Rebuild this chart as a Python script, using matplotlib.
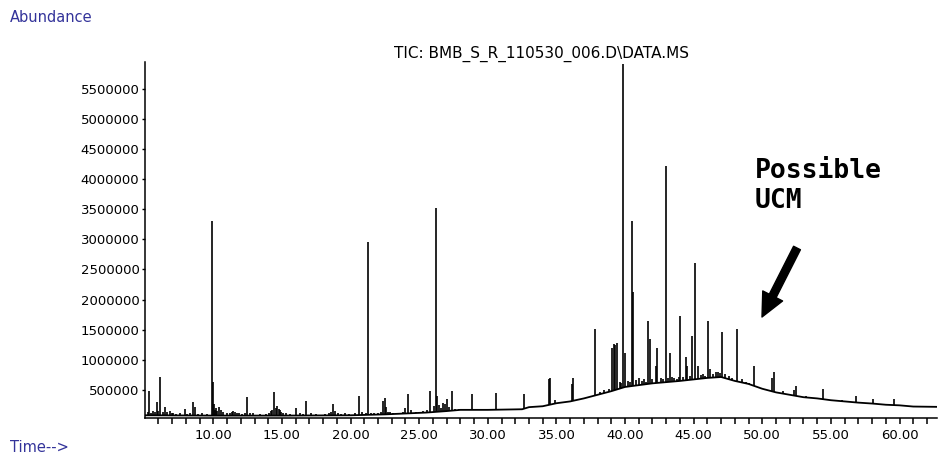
import numpy as np
import matplotlib
matplotlib.use("Agg")
import matplotlib.pyplot as plt
from matplotlib.ticker import MultipleLocator, FixedLocator

# Linea base (joroba UCM): tiempo (min) y abundancia
base_t = [5.0, 10.0, 15.0, 20.0, 22.5, 24.0, 25.5, 27.0, 28.0, 30.0, 32.5, 33.0,
          34.0, 35.0, 36.0, 37.0, 38.0, 39.0, 40.0, 41.0, 42.0, 43.0, 44.0, 45.0,
          46.0, 47.0, 48.0, 49.0, 50.0, 51.0, 52.0, 53.0, 54.0, 55.0, 56.0, 57.0,
          58.0, 59.0, 60.0, 61.0, 62.7]
base_y = [80000, 75000, 75000, 80000, 95000, 110000, 125000, 150000, 170000, 170000,
          180000, 215000, 230000, 280000, 310000, 360000, 420000, 480000, 550000,
          580000, 610000, 630000, 650000, 675000, 700000, 715000, 650000, 600000,
          520000, 460000, 420000, 380000, 360000, 330000, 310000, 290000, 275000,
          255000, 245000, 225000, 220000]

# Picos principales: tiempo de retencion y abundancia maxima
pico_t = [5.34, 5.6, 5.87, 6.14, 6.3, 6.49, 6.84, 7.08, 7.94, 8.54, 8.65, 9.93, 10.0,
          10.15, 10.3, 10.54, 11.2, 11.45, 11.7, 12.48, 12.7, 14.2, 14.42, 14.66,
          14.85, 15.1, 16.0, 16.76, 18.55, 18.7, 19.3, 20.62, 21.28, 21.5, 22.39, 22.5,
          22.7, 23.1, 24.0, 24.21, 25.79, 26.21, 26.3, 26.6, 26.9, 27.01, 27.4, 28.88,
          30.56, 32.67, 34.48, 34.54, 34.9, 36.15, 36.2, 37.8, 39.05, 39.16, 39.3,
          39.4, 39.88, 40.0, 40.5, 40.6, 41.0, 41.7, 41.8, 42.25, 42.32, 42.95, 43.29,
          43.6, 44.02, 44.43, 44.5, 44.9, 45.1, 45.3, 46.08, 46.2, 47.1, 48.19, 48.5,
          49.41, 50.7, 50.82, 52.3, 52.47, 54.46, 56.82, 58.04, 59.61]
pico_y = [489000, 150000, 297000, 711000, 130000, 214000, 152000, 114000, 186000,
          297000, 214000, 3300000, 628000, 160000, 150000, 170000, 110000, 150000,
          120000, 380000, 110000, 150000, 462000, 240000, 160000, 120000, 207000,
          318000, 130000, 263000, 100000, 401000, 2960000, 110000, 318000, 375000,
          140000, 110000, 200000, 429000, 484000, 3520000, 400000, 200000, 260000,
          346000, 484000, 429000, 456000, 429000, 680000, 694000, 335000, 600000,
          705000, 1510000, 1200000, 1260000, 1250000, 1280000, 5900000, 1120000,
          3300000, 2130000, 700000, 1650000, 1350000, 900000, 1200000, 4210000,
          1120000, 700000, 1730000, 1040000, 900000, 1400000, 2600000, 900000,
          1650000, 850000, 1460000, 1510000, 680000, 903000, 700000, 794000, 500000,
          567000, 517000, 401000, 346000, 351000]

# Ruido pequeño (antes de la joroba y sobre ella)
ruido_t = [5.2, 5.45, 5.75, 6.0, 6.6, 6.95, 7.3, 7.6, 8.1, 8.3, 8.9, 9.2, 9.5,
           10.08, 10.22, 10.4, 10.7, 11.0, 11.35, 11.6, 11.85, 12.1, 12.3, 12.9,
           13.4, 13.8, 14.05, 14.3, 14.55, 14.75, 14.95, 15.3, 15.6, 16.3, 16.5,
           17.1, 17.5, 18.1, 18.4, 18.85, 19.1, 19.6, 19.9, 20.3, 20.8, 21.1, 21.7,
           22.0, 22.2, 22.6, 22.9, 23.4, 23.8, 24.4, 24.8, 25.3, 25.6, 26.05,
           26.45, 26.75, 27.2, 27.6, 27.9, 28.5, 29.2, 31.5, 33.5, 35.5, 36.6, 37.2,
           37.5, 38.2, 38.5, 38.8, 39.6, 39.7, 40.2, 40.35, 40.8, 41.2, 41.4, 41.55,
           42.0, 42.6, 42.8, 43.1, 43.45, 43.8, 43.9, 44.2, 44.7, 45.5, 45.7, 45.85,
           46.4, 46.6, 46.8, 46.95, 47.3, 47.6, 47.8, 48.8, 49.0, 51.5, 53.2, 55.8,
           57.9]
ruido_y = [140000, 120000, 130000, 150000, 130000, 110000, 100000, 110000, 100000,
           110000, 100000, 110000, 100000, 260000, 200000, 210000, 140000, 110000,
           130000, 140000, 110000, 100000, 110000, 120000, 100000, 100000, 120000,
           170000, 200000, 180000, 140000, 110000, 100000, 110000, 100000, 110000,
           100000, 100000, 110000, 150000, 110000, 110000, 100000, 110000, 130000,
           120000, 120000, 120000, 130000, 220000, 130000, 120000, 130000, 160000,
           140000, 150000, 160000, 230000, 250000, 280000, 210000, 190000, 180000,
           190000, 190000, 185000, 240000, 300000, 330000, 380000, 390000, 470000,
           500000, 520000, 640000, 620000, 650000, 630000, 660000, 650000, 680000,
           640000, 690000, 700000, 680000, 700000, 710000, 690000, 720000, 720000,
           730000, 740000, 760000, 730000, 770000, 790000, 800000, 780000, 760000,
           730000, 700000, 640000, 620000, 480000, 400000, 330000, 290000]

yticks = [500000, 1000000, 1500000, 2000000, 2500000, 3000000, 3500000, 4000000,
          4500000, 5000000, 5500000]
xticks = [10, 15, 20, 25, 30, 35, 40, 45, 50, 55, 60]

plt.rcParams['font.family'] = ['DejaVu Sans']

fig = plt.figure(figsize=(9.43, 4.54), dpi=100)
ax = fig.add_axes([0.1538, 0.0793, 0.8398, 0.7841])

ax.plot(base_t, base_y, color='black', lw=1.3)
pt = np.array(pico_t)
ax.vlines(pt, np.interp(pt, base_t, base_y), pico_y, color='black', lw=1.2)
rt = np.array(ruido_t)
ax.vlines(rt, np.interp(rt, base_t, base_y), ruido_y, color='black', lw=1.2)

ax.set_xlim(5.02, 62.73)
ax.set_ylim(35000, 5940000)

ax.spines['top'].set_visible(False)
ax.spines['right'].set_visible(False)
ax.spines['left'].set_linewidth(1.1)
ax.spines['bottom'].set_linewidth(1.1)

ax.xaxis.set_major_locator(FixedLocator(xticks))
ax.xaxis.set_minor_locator(MultipleLocator(1))
ax.set_xticklabels(['%.2f' % v for v in xticks], fontsize=9.5)
ax.tick_params(axis='x', which='both', direction='out', length=4, width=1.1, pad=4)

ax.set_yticks(yticks)
ax.set_yticklabels([str(v) for v in yticks], fontsize=9.5)
ax.tick_params(axis='y', direction='out', length=2, width=1.0, pad=2)

fig.text(541 / 943, 1 - 54 / 454, 'TIC: BMB_S_R_110530_006.D\\DATA.MS',
         ha='center', va='center', fontsize=11)
fig.text(10 / 943, 1 - 17 / 454, 'Abundance', ha='left', va='center',
         fontsize=10.5, color='#33339a')
fig.text(10 / 943, 1 - 448 / 454, 'Time-->', ha='left', va='center',
         fontsize=10.5, color='#33339a')

fig.text(755 / 943, 1 - 158 / 454, 'Possible\nUCM', ha='left', va='top',
         fontsize=19, family='DejaVu Sans Mono', fontweight='bold', linespacing=1.2)

ax.annotate('', xy=(762 / 943, 1 - 317 / 454), xycoords='figure fraction',
            xytext=(797 / 943, 1 - 248 / 454), textcoords='figure fraction',
            arrowprops=dict(facecolor='black', edgecolor='black', width=5.5,
                            headwidth=16, headlength=17, shrink=0))

fig.savefig('out.png', dpi=100)
